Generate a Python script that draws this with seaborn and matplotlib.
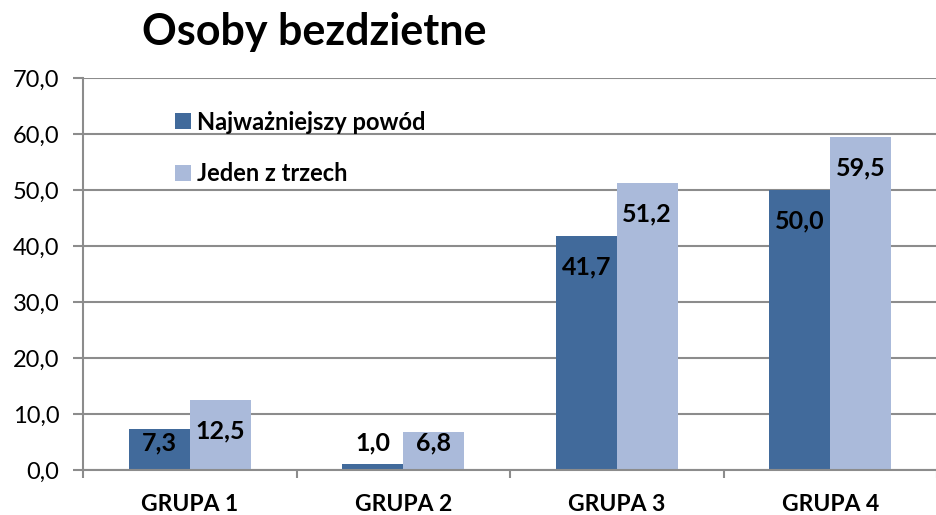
import matplotlib
matplotlib.use("Agg")
import matplotlib.pyplot as plt
import seaborn as sns
import pandas as pd
from matplotlib.patches import Patch

categories = ["GRUPA 1", "GRUPA 2", "GRUPA 3", "GRUPA 4"]
series_names = ["Najważniejszy powód", "Jeden z trzech"]
najwazniejszy = [7.3, 1.0, 41.7, 50.0]
jeden_z_trzech = [12.5, 6.8, 51.2, 59.5]
title = "Osoby bezdzietne"
yticks = [0, 10, 20, 30, 40, 50, 60, 70]

colors = ["#416A9B", "#AABADA"]
grid_col = "#8C8C8C"

df = pd.DataFrame({
    "grupa": categories * 2,
    "seria": [series_names[0]] * 4 + [series_names[1]] * 4,
    "wartosc": najwazniejszy + jeden_z_trzech,
})

sns.set_theme(style="white")
plt.rcParams["font.family"] = ["Lato", "DejaVu Sans"]
plt.rcParams["text.color"] = "black"
plt.rcParams["xtick.color"] = "black"
plt.rcParams["ytick.color"] = "black"

fig = plt.figure(figsize=(9.36, 5.15), dpi=100)
ax = fig.add_axes([83 / 936, 1 - 470 / 515, (937 - 83) / 936, (470 - 78) / 515])

sns.barplot(data=df, x="grupa", y="wartosc", hue="seria", order=categories,
            hue_order=series_names, palette=colors, width=0.57, gap=0,
            saturation=1, ax=ax, legend=False, linewidth=0, errorbar=None)

ax.set_ylim(0, 70)
ax.set_xlim(-0.5, 3.5)
ax.set_yticks(yticks)
ax.set_yticklabels([f"{v:.1f}".replace(".", ",") for v in yticks], fontsize=17, color="black")
ax.yaxis.grid(True, color=grid_col, linewidth=1.5)
ax.set_axisbelow(True)
ax.set_xlabel("")
ax.set_ylabel("")
ax.set_xticks([0, 1, 2, 3])
ax.set_xticklabels(categories, fontsize=16.5, fontweight="bold", color="black")
ax.tick_params(axis="x", which="major", length=0, pad=17)
ax.set_xticks([-0.5, 0.5, 1.5, 2.5, 3.5], minor=True)
ax.tick_params(axis="x", which="minor", length=6, width=1.5, color=grid_col,
               direction="out", bottom=True)
ax.tick_params(axis="y", length=7, width=1.5, color=grid_col, labelcolor="black",
               direction="out", left=True, pad=10)

for s in ["top", "right"]:
    ax.spines[s].set_visible(False)
for s in ["left", "bottom"]:
    ax.spines[s].set_color(grid_col)
    ax.spines[s].set_linewidth(1.5)

for cont in ax.containers:
    for bar in cont:
        v = bar.get_height()
        ypos = max(v - 5.5, 4.8)
        ax.text(bar.get_x() + bar.get_width() / 2, ypos, f"{v:.1f}".replace(".", ","),
                ha="center", va="center", fontsize=18, fontweight="bold", color="black")

handles = [Patch(facecolor=c, edgecolor="none") for c in colors]
leg = ax.legend(handles, series_names, loc="upper left", bbox_to_anchor=(0.1077, 0.917),
                frameon=False, prop={"size": 17, "weight": "bold"},
                borderpad=0, borderaxespad=0,
                handlelength=0.68, handleheight=0.66, handletextpad=0.25, labelspacing=1.2)
for t in leg.get_texts():
    t.set_color("black")

fig.text(314 / 936, 1 - 45 / 515, title, ha="center", va="baseline",
         fontsize=31, fontweight="bold", color="black")

fig.savefig("out.png", dpi=100)
